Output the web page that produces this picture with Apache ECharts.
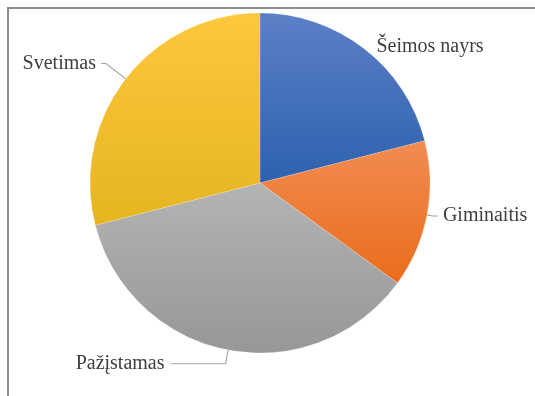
<!DOCTYPE html>
<html>
<head>
<meta charset="utf-8">
<script src="https://cdn.jsdelivr.net/npm/echarts@6/dist/echarts.min.js"></script>
<style>
  html, body { margin: 0; padding: 0; background: #fff; }
  #frame {
    position: absolute; left: 7px; top: 7px; right: 0; bottom: 0;
    border-left: 2px solid #8c8c8c; border-top: 2px solid #8c8c8c;
  }
  #chart { position: absolute; left: 0; top: 0; width: 535px; height: 396px; }
</style>
</head>
<body>
<div id="frame"></div>
<div id="chart"></div>
<script>
// Respondent categories and their shares (%)
const categories = ['Šeimos nayrs', 'Giminaitis', 'Pažįstamas', 'Svetimas'];
const shares = [21, 14, 36, 29];

// Slice fills: light (top) to dark (bottom)
const topColors = ['#5c80c6', '#f18c52', '#b4b4b4', '#fdc73e'];
const bottomColors = ['#2d61ae', '#ea6c1b', '#979797', '#e6b521'];

// Per-slice leader line [first, second] lengths and visibility
const leadLen = [[2, 0], [6, 5], [14, 55], [25, 5]];
const leadShow = [false, true, true, true];
// Padding [top, right, bottom, left] that places the name line and the share line
const namePad = [[0, 0, 6, 6], [4, 0, 0, 0], [0, 1, 14, 0], [0, 0, 23, 0]];
const sharePad = [[42, 0, 0, 41], [50, 0, 0, 24], [32, 27, 0, 0], [25, 19, 0, 0]];

const serif = 'Liberation Serif';

const chart = echarts.init(document.getElementById('chart'));

const labelBase = {
  show: true,
  position: 'outside',
  bleedMargin: 0,
  fontFamily: serif,
  fontSize: 20,
  color: '#404040'
};

function buildOption() {
  // visible slices, labelled with the category name
  const sliceData = categories.map((name, i) => ({
    name,
    value: shares[i],
    label: { padding: namePad[i] },
    labelLine: { show: leadShow[i], length: leadLen[i][0], length2: leadLen[i][1] },
    itemStyle: {
      color: new echarts.graphic.LinearGradient(0, 0, 0, 1, [
        { offset: 0, color: topColors[i] },
        { offset: 1, color: bottomColors[i] }
      ])
    }
  }));

  // same slices, see-through, carrying the share text under each name
  const shareData = categories.map((name, i) => ({
    name,
    value: shares[i],
    label: { padding: sharePad[i] },
    labelLine: { length: leadLen[i][0], length2: leadLen[i][1] }
  }));

  const common = {
    type: 'pie',
    center: [260, 183],
    radius: 170,
    startAngle: 90,
    clockwise: true
  };

  return {
    animation: false,
    series: [
      Object.assign({}, common, {
        data: sliceData,
        itemStyle: { borderColor: 'rgba(255,255,255,0.35)', borderWidth: 0.5 },
        label: Object.assign({}, labelBase, { formatter: p => p.name }),
        labelLine: { show: true, lineStyle: { color: '#a6a6a6', width: 1.2 } }
      }),
      Object.assign({}, common, {
        silent: true,
        data: shareData,
        itemStyle: { color: 'rgba(0,0,0,0)', borderWidth: 0 },
        label: Object.assign({}, labelBase, { formatter: p => p.value + '%' }),
        labelLine: { show: true, lineStyle: { opacity: 0 } }
      })
    ]
  };
}

chart.setOption(buildOption());

if (document.fonts && document.fonts.load) {
  document.fonts.load('20px "Liberation Serif"', 'Šeimos').then(() => {
    chart.setOption(buildOption(), true);
  });
}
</script>
</body>
</html>
